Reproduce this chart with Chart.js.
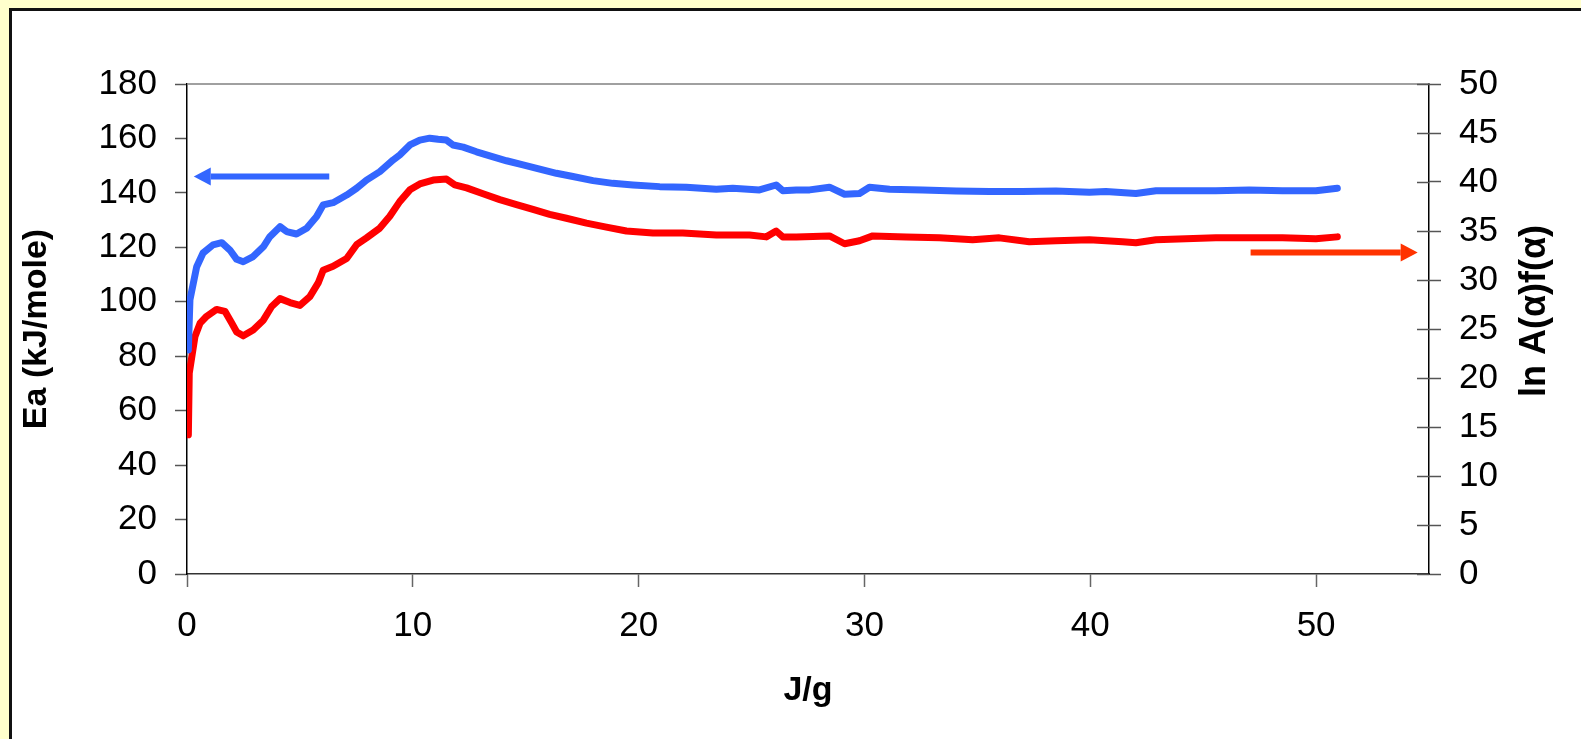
<!DOCTYPE html>
<html>
<head>
<meta charset="utf-8">
<script src="https://cdn.jsdelivr.net/npm/chart.js@4"></script>
<style>
  html, body { margin: 0; padding: 0; background: #FFFFCC; overflow: hidden; }
  #frame {
    position: absolute; left: 9px; top: 8px; width: 1600px; height: 760px;
    background: #fff; border-left: 3px solid #111; border-top: 3px solid #111;
  }
  #chart { position: absolute; left: 0; top: 0; }
</style>
</head>
<body>
<div id="frame"></div>
<canvas id="chart" width="1581" height="739"></canvas>
<script>
// Ea (left axis) against J/g
const blueX = [0.06, 0.13, 0.43, 0.71, 1.15, 1.54, 1.90, 2.20, 2.49, 2.93, 3.38, 3.67, 4.12, 4.41,
    4.85, 5.30, 5.74, 6.03, 6.47, 7.07, 7.51, 7.95, 8.54, 9.13, 9.42, 9.87, 10.31, 10.75, 11.12,
    11.49, 11.78, 12.23, 12.82, 13.41, 14.15, 14.88, 15.62, 16.36, 17.09, 17.98, 18.86, 19.75,
    20.93, 22.11, 23.44, 24.17, 25.35, 26.09, 26.38, 26.98, 27.57, 28.45, 29.12, 29.78, 30.22,
    31.11, 32.58, 34.06, 35.53, 37.00, 38.48, 39.96, 40.69, 42.02, 42.91, 44.23, 45.56, 47.04,
    48.51, 49.99, 50.94];
const blueEa = [82.3, 100.7, 112.9, 117.9, 120.9, 121.7, 119.0, 115.6, 114.7, 116.6, 120.2, 123.9,
    127.6, 125.8, 124.9, 127.0, 131.3, 135.6, 136.4, 139.2, 141.7, 144.7, 147.8, 152.1, 153.9,
    157.6, 159.4, 160.1, 159.7, 159.4, 157.6, 156.8, 155.1, 153.6, 151.8, 150.3, 148.7, 147.2,
    146.0, 144.5, 143.5, 142.9, 142.3, 142.1, 141.3, 141.7, 141.1, 142.9, 140.8, 141.1, 141.1,
    142.1, 139.5, 139.8, 142.1, 141.3, 141.1, 140.7, 140.5, 140.5, 140.7, 140.2, 140.5, 139.8,
    140.8, 140.8, 140.8, 141.1, 140.8, 140.8, 141.7];

// ln A(α)f(α) (right axis) against J/g
const redX = [0.06, 0.10, 0.35, 0.58, 0.87, 1.31, 1.68, 1.98, 2.20, 2.49, 2.93, 3.38, 3.75, 4.12,
    4.56, 5.00, 5.44, 5.81, 6.03, 6.47, 7.07, 7.51, 7.95, 8.54, 8.98, 9.42, 9.87, 10.31, 10.90,
    11.49, 11.86, 12.38, 13.11, 13.85, 14.59, 15.32, 16.06, 16.80, 17.69, 18.57, 19.46, 20.63,
    21.96, 23.44, 24.91, 25.65, 26.09, 26.38, 26.98, 28.45, 29.12, 29.78, 30.37, 31.85, 33.32,
    34.79, 35.97, 37.30, 38.48, 39.96, 41.43, 42.02, 42.91, 44.23, 45.56, 47.04, 48.51, 49.99,
    50.94];
const redLnA = [14.2, 20.5, 24.2, 25.6, 26.3, 27.0, 26.8, 25.6, 24.7, 24.3, 24.9, 25.9, 27.3, 28.1,
    27.7, 27.4, 28.3, 29.7, 31.0, 31.4, 32.2, 33.6, 34.3, 35.3, 36.5, 38.0, 39.2, 39.8, 40.2,
    40.3, 39.7, 39.4, 38.8, 38.2, 37.7, 37.2, 36.7, 36.3, 35.8, 35.4, 35.0, 34.8, 34.8, 34.6,
    34.6, 34.4, 35.0, 34.4, 34.4, 34.5, 33.7, 34.0, 34.5, 34.4, 34.3, 34.1, 34.3, 33.9, 34.0,
    34.1, 33.9, 33.8, 34.1, 34.2, 34.3, 34.3, 34.3, 34.2, 34.4];

// axis ranges and tick steps
const xRange = [0, 55, 10];
const eaRange = [0, 180, 20];
const lnaRange = [0, 50, 5];

// arrows telling which axis each curve belongs to: [fromX, toX, value]
const eaArrow = [6.3, 0.3, 146];
const lnaArrow = [47.1, 54.5, 32.8];

const FONT = "'Liberation Sans', Arial, Helvetica, sans-serif";
Chart.defaults.font.family = FONT;
Chart.defaults.color = "#000";

function toPoints(xs, ys) {
    return xs.map((x, i) => ({ x: x, y: ys[i] }));
}

function drawArrow(ctx, x0, x1, y, color) {
    const dir = Math.sign(x1 - x0);
    const head = 17;
    ctx.save();
    ctx.strokeStyle = color;
    ctx.fillStyle = color;
    ctx.lineWidth = 6;
    ctx.beginPath();
    ctx.moveTo(x0, y);
    ctx.lineTo(x1 - dir * head, y);
    ctx.stroke();
    ctx.beginPath();
    ctx.moveTo(x1, y);
    ctx.lineTo(x1 - dir * head, y - 9);
    ctx.lineTo(x1 - dir * head, y + 9);
    ctx.closePath();
    ctx.fill();
    ctx.restore();
}

// plot-area top border, inner halves of the right-axis ticks, arrows and right title
const extras = {
    id: "extras",
    afterDraw(chart) {
        const { ctx, chartArea: a, scales } = chart;
        ctx.save();
        ctx.strokeStyle = "#808080";
        ctx.lineWidth = 1.5;
        ctx.beginPath();
        ctx.moveTo(a.left, a.top);
        ctx.lineTo(a.right, a.top);
        ctx.stroke();

        ctx.strokeStyle = "#555";
        ctx.lineWidth = 1.5;
        scales.y1.ticks.forEach((t) => {
            const py = Math.round(scales.y1.getPixelForValue(t.value)) + 0.5;
            ctx.beginPath();
            ctx.moveTo(a.right - 12, py);
            ctx.lineTo(a.right, py);
            ctx.stroke();
        });
        ctx.restore();

        drawArrow(ctx, scales.x.getPixelForValue(eaArrow[0]), scales.x.getPixelForValue(eaArrow[1]),
            scales.y.getPixelForValue(eaArrow[2]), "#3366FF");
        drawArrow(ctx, scales.x.getPixelForValue(lnaArrow[0]), scales.x.getPixelForValue(lnaArrow[1]),
            scales.y1.getPixelForValue(lnaArrow[2]), "#FF3300");

        ctx.save();
        ctx.translate(scales.y1.right - 46, 311);
        ctx.rotate(-Math.PI / 2);
        ctx.font = "bold 36px " + FONT;
        ctx.fillStyle = "#000";
        ctx.textAlign = "center";
        ctx.textBaseline = "middle";
        ctx.fillText("ln A(α)f(α)", 0, 0);
        ctx.restore();
    },
};

const tickFont = { size: 35 };
const titleFont = { size: 34, weight: "bold" };

new Chart(document.getElementById("chart"), {
    type: "line",
    data: {
        datasets: [
            {
                label: "Ea",
                data: toPoints(blueX, blueEa),
                yAxisID: "y",
                borderColor: "#3366FF",
                borderWidth: 7,
                pointRadius: 0,
                borderJoinStyle: "round",
                borderCapStyle: "round",
                tension: 0,
            },
            {
                label: "ln A(α)f(α)",
                data: toPoints(redX, redLnA),
                yAxisID: "y1",
                borderColor: "#FF0000",
                borderWidth: 7,
                pointRadius: 0,
                borderJoinStyle: "round",
                borderCapStyle: "round",
                tension: 0,
            },
        ],
    },
    options: {
        responsive: false,
        animation: false,
        layout: { padding: { top: 84, left: 0, right: 0, bottom: 0 } },
        plugins: {
            legend: { display: false },
            tooltip: { enabled: false },
        },
        scales: {
            x: {
                type: "linear",
                min: xRange[0],
                max: xRange[1],
                afterFit: (s) => { s.height = 165; },
                ticks: { stepSize: xRange[2], includeBounds: false, font: tickFont, padding: 18, maxRotation: 0 },
                grid: { drawOnChartArea: false, tickLength: 13, tickColor: "#666", tickWidth: 1.5 },
                border: { color: "#333", width: 1.5 },
                title: { display: true, text: "J/g", font: titleFont, padding: { top: 0, bottom: 28 } },
            },
            y: {
                position: "left",
                min: eaRange[0],
                max: eaRange[1],
                afterFit: (s) => { s.width = 187; },
                ticks: { stepSize: eaRange[2], font: tickFont, padding: 18 },
                grid: { drawOnChartArea: false, tickLength: 12, tickColor: "#555", tickWidth: 1.5 },
                border: { color: "#000", width: 1.5 },
                title: { display: true, text: "Ea (kJ/mole)", font: titleFont, padding: { top: 16, bottom: 0 } },
            },
            y1: {
                position: "right",
                min: lnaRange[0],
                max: lnaRange[1],
                afterFit: (s) => { s.width = 152; },
                ticks: { stepSize: lnaRange[2], font: tickFont, padding: 18 },
                grid: { drawOnChartArea: false, tickLength: 12, tickColor: "#555", tickWidth: 1.5 },
                border: { color: "#000", width: 1.5 },
            },
        },
    },
    plugins: [extras],
});
</script>
</body>
</html>
